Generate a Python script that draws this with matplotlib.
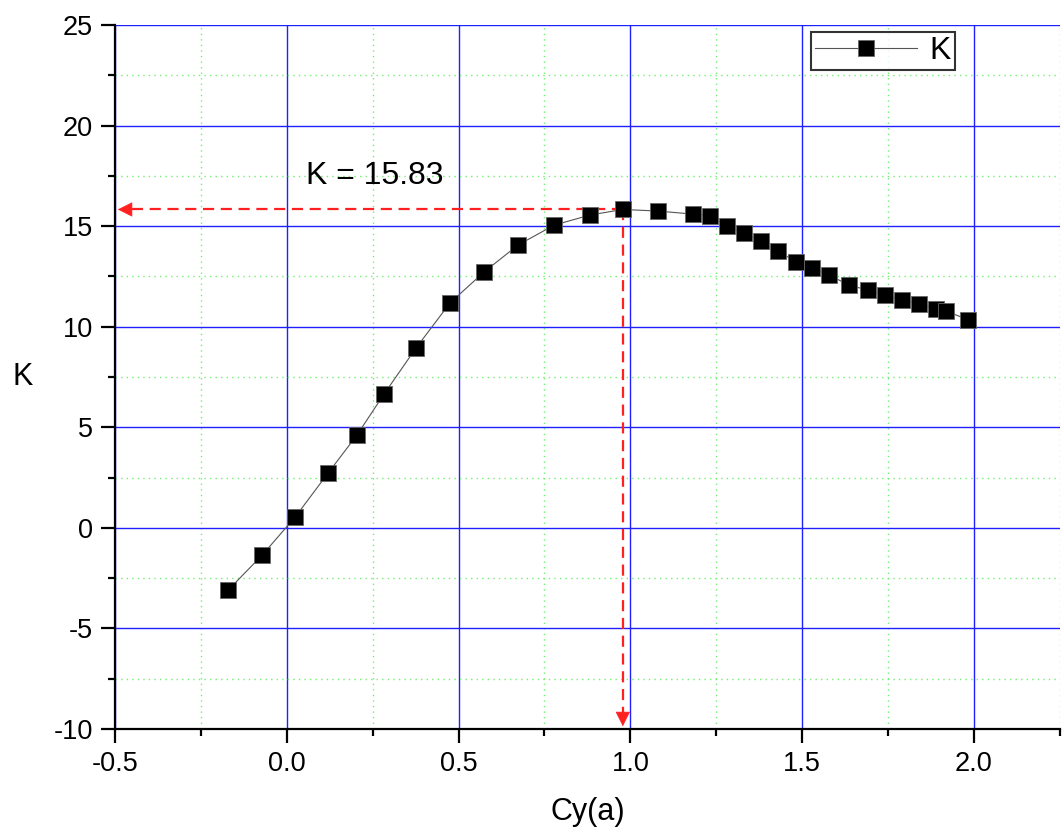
import numpy as np
import matplotlib
matplotlib.use("Agg")
import matplotlib.pyplot as plt
from matplotlib.ticker import MultipleLocator

plt.rcParams['font.family'] = ['Liberation Sans', 'DejaVu Sans']
plt.rcParams['axes.unicode_minus'] = False

# datos
cy = [-0.171, -0.072, 0.024, 0.120, 0.204, 0.283, 0.376, 0.475, 0.574, 0.673,
      0.778, 0.882, 0.978, 1.080, 1.182, 1.232, 1.281, 1.331, 1.380, 1.430,
      1.482, 1.529, 1.578, 1.636, 1.691, 1.741, 1.790, 1.840, 1.889, 1.918, 1.983]
k = [-3.10, -1.36, 0.53, 2.72, 4.61, 6.65, 8.94, 11.18, 12.72, 14.06,
     15.05, 15.55, 15.83, 15.75, 15.60, 15.52, 15.02, 14.66, 14.26, 13.74,
     13.24, 12.90, 12.57, 12.07, 11.82, 11.57, 11.35, 11.15, 10.88, 10.78, 10.35]
etiqueta_k = "K = 15.83"
x_lim = (-0.5, 2.25)
y_lim = (-10, 25)

fig = plt.figure(figsize=(10.62, 8.39), dpi=100)
ax = fig.add_axes([0.1083, 0.1311, 0.8897, 0.8391])

ax.set_xlim(*x_lim)
ax.set_ylim(*y_lim)

ax.xaxis.set_major_locator(MultipleLocator(0.5))
ax.xaxis.set_minor_locator(MultipleLocator(0.25))
ax.yaxis.set_major_locator(MultipleLocator(5))
ax.yaxis.set_minor_locator(MultipleLocator(2.5))

ax.grid(which='major', color='#2020ff', lw=1.0)
ax.grid(which='minor', color='#70f070', lw=1.0, linestyle=(0, (1, 3)))
ax.set_axisbelow(True)

for lado in ['top', 'right']:
    ax.spines[lado].set_visible(False)
for lado in ['left', 'bottom']:
    ax.spines[lado].set_linewidth(1.6)

ax.tick_params(which='major', direction='out', length=10, width=1.6, labelsize=19.5, pad=6)
ax.tick_params(which='minor', direction='out', length=5, width=1.6)
ax.xaxis.set_major_formatter(matplotlib.ticker.FormatStrFormatter('%.1f'))

ax.plot(cy, k, color='#555555', lw=0.8, marker='s', markersize=11,
        markerfacecolor='black', markeredgecolor='#666666', markeredgewidth=0.6,
        label='K', zorder=4)

# maximo y flechas
i = int(np.argmax(k))
x_max, k_max = cy[i], k[i]
ax.plot([x_max, x_lim[0] + 0.04], [k_max, k_max], '--', color='#ff2020', lw=1.6,
        dashes=(5, 3), zorder=3)
ax.plot([x_max, x_max], [k_max, y_lim[0] + 0.7], '--', color='#ff2020', lw=1.6,
        dashes=(5, 3), zorder=3)
ax.annotate('', xy=(x_lim[0], k_max), xytext=(x_lim[0] + 0.06, k_max),
            arrowprops=dict(arrowstyle='-|>', color='#ff2020', lw=0.5, mutation_scale=24))
ax.annotate('', xy=(x_max, y_lim[0]), xytext=(x_max, y_lim[0] + 1.0),
            arrowprops=dict(arrowstyle='-|>', color='#ff2020', lw=0.5, mutation_scale=24))
ax.text(0.257, 17.5, etiqueta_k, fontsize=23, ha='center', va='center')

ax.set_xlabel('Cy(a)', fontsize=22, labelpad=14)
ax.set_ylabel('K', fontsize=22, rotation=0, labelpad=22, va='center')

leg = ax.legend(loc='upper right', bbox_to_anchor=(0.889, 0.99), fontsize=23,
                frameon=True, fancybox=False, edgecolor='black', handlelength=3.2,
                borderpad=0.12, handletextpad=0.4, borderaxespad=0)
leg.get_frame().set_linewidth(1.5)

fig.savefig('out.png', dpi=100)
